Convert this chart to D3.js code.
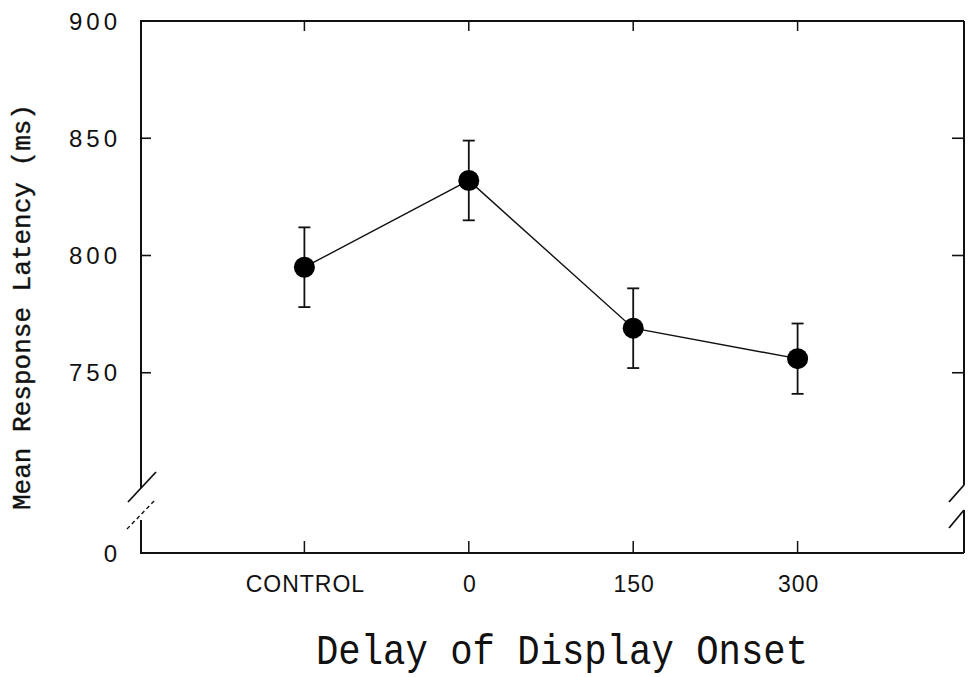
<!DOCTYPE html>
<html>
<head>
<meta charset="utf-8">
<script src="https://cdn.jsdelivr.net/npm/d3@7"></script>
<style>
  html, body { margin: 0; padding: 0; background: #fff; }
  svg { display: block; }
</style>
</head>
<body>
<div id="chart"></div>
<script>
// values
var delays = ['CONTROL', '0', '150', '300'];
var latency = [795, 832, 769, 756];
var errs = [17, 17, 17, 15];
var yTicks = [750, 800, 850, 900];

var W = 968, H = 677;
// frame edges (window.top is reserved, hence the names)
var fLeft = 140, fRight = 964, fTop = 21, fBottom = 553;

var svg = d3.select('#chart').append('svg')
    .attr('width', W)
    .attr('height', H);

var x = d3.scalePoint()
    .domain(delays)
    .range([fLeft, 962])
    .padding(1);

// broken axis: 700..900 on the upper part, 0 sits at the bottom line
var y = d3.scaleLinear()
    .domain([700, 900])
    .range([490, fTop]);

var ink = '#111';

function seg(x1, y1, x2, y2, w) {
    return svg.append('line')
        .attr('x1', x1).attr('y1', y1)
        .attr('x2', x2).attr('y2', y2)
        .attr('stroke', ink).attr('stroke-width', w);
}

// frame: top + bottom
seg(fLeft, fTop, fRight, fTop, 2);
seg(fLeft, fBottom, fRight, fBottom, 2);

// left axis, with the break
seg(fLeft + 1, fTop, fLeft + 1, 488, 2);
seg(fLeft + 1, 520, fLeft + 1, fBottom, 2);
seg(128, 502, 156, 472, 1.8);
seg(127, 529, 156, 499, 1.4).attr('stroke-dasharray', '4,3');

// right axis, with the break
seg(fRight, fTop, fRight, 485, 2);
seg(fRight, 510, fRight, fBottom, 2);
seg(949, 502, fRight, 485, 1.8);
seg(949, 528, fRight, 510, 1.8);

// inward y ticks on both sides
var inner = yTicks.filter(d => d < 900);
svg.selectAll('.ytl').data(inner).enter().append('line')
    .attr('x1', fLeft).attr('x2', fLeft + 11)
    .attr('y1', d => y(d)).attr('y2', d => y(d))
    .attr('stroke', ink).attr('stroke-width', 1.6);
svg.selectAll('.ytr').data(inner).enter().append('line')
    .attr('x1', fRight - 12).attr('x2', fRight)
    .attr('y1', d => y(d)).attr('y2', d => y(d))
    .attr('stroke', ink).attr('stroke-width', 1.6);

// inward x ticks top and bottom
svg.selectAll('.xtt').data(delays).enter().append('line')
    .attr('x1', d => x(d)).attr('x2', d => x(d))
    .attr('y1', fTop).attr('y2', fTop + 10)
    .attr('stroke', ink).attr('stroke-width', 1.5);
svg.selectAll('.xtb').data(delays).enter().append('line')
    .attr('x1', d => x(d)).attr('x2', d => x(d))
    .attr('y1', fBottom - 12).attr('y2', fBottom)
    .attr('stroke', ink).attr('stroke-width', 1.5);

// y tick labels
var tickFont = '"Liberation Sans", Arial, sans-serif';
svg.selectAll('.ylab').data(yTicks).enter().append('text')
    .attr('x', 121)
    .attr('y', d => y(d))
    .attr('dy', '0.36em')
    .attr('text-anchor', 'end')
    .attr('font-family', tickFont)
    .attr('font-size', 24)
    .attr('letter-spacing', 4)
    .attr('fill', ink)
    .text(d => d);
svg.append('text')
    .attr('x', 121).attr('y', fBottom).attr('dy', '0.36em')
    .attr('text-anchor', 'end')
    .attr('font-family', tickFont)
    .attr('font-size', 24)
    .attr('letter-spacing', 4)
    .attr('fill', ink)
    .text('0');

// x tick labels
svg.selectAll('.xlab').data(delays).enter().append('text')
    .attr('x', d => x(d) + 1)
    .attr('y', 592)
    .attr('text-anchor', 'middle')
    .attr('font-family', tickFont)
    .attr('font-size', 23)
    .attr('letter-spacing', 1)
    .attr('fill', ink)
    .text(d => d);

// axis titles
var monoFont = '"Liberation Mono", "Courier New", monospace';
svg.append('text')
    .attr('x', 316).attr('y', 664)
    .attr('font-family', monoFont)
    .attr('font-size', 42)
    .attr('textLength', 492)
    .attr('lengthAdjust', 'spacingAndGlyphs')
    .attr('fill', ink)
    .text('Delay of Display Onset');

svg.append('text')
    .attr('transform', 'translate(30,307) rotate(-90)')
    .attr('text-anchor', 'middle')
    .attr('font-family', monoFont)
    .attr('font-size', 25)
    .attr('textLength', 406)
    .attr('lengthAdjust', 'spacingAndGlyphs')
    .attr('fill', ink)
    .attr('stroke', ink)
    .attr('stroke-width', 0.4)
    .text('Mean Response Latency (ms)');

// data
var pts = delays.map((d, i) => ({ k: d, v: latency[i], e: errs[i] }));

svg.append('path')
    .datum(pts)
    .attr('fill', 'none')
    .attr('stroke', ink)
    .attr('stroke-width', 1.4)
    .attr('d', d3.line().x(d => x(d.k)).y(d => y(d.v)));

var eb = svg.selectAll('.err').data(pts).enter().append('g');
eb.append('line')
    .attr('x1', d => x(d.k)).attr('x2', d => x(d.k))
    .attr('y1', d => y(d.v + d.e)).attr('y2', d => y(d.v - d.e))
    .attr('stroke', ink).attr('stroke-width', 1.8);
eb.append('line')
    .attr('x1', d => x(d.k) - 6).attr('x2', d => x(d.k) + 6)
    .attr('y1', d => y(d.v + d.e)).attr('y2', d => y(d.v + d.e))
    .attr('stroke', ink).attr('stroke-width', 1.8);
eb.append('line')
    .attr('x1', d => x(d.k) - 6).attr('x2', d => x(d.k) + 6)
    .attr('y1', d => y(d.v - d.e)).attr('y2', d => y(d.v - d.e))
    .attr('stroke', ink).attr('stroke-width', 1.8);

svg.selectAll('.dot').data(pts).enter().append('circle')
    .attr('cx', d => x(d.k))
    .attr('cy', d => y(d.v))
    .attr('r', 10.5)
    .attr('fill', '#000');
</script>
</body>
</html>
